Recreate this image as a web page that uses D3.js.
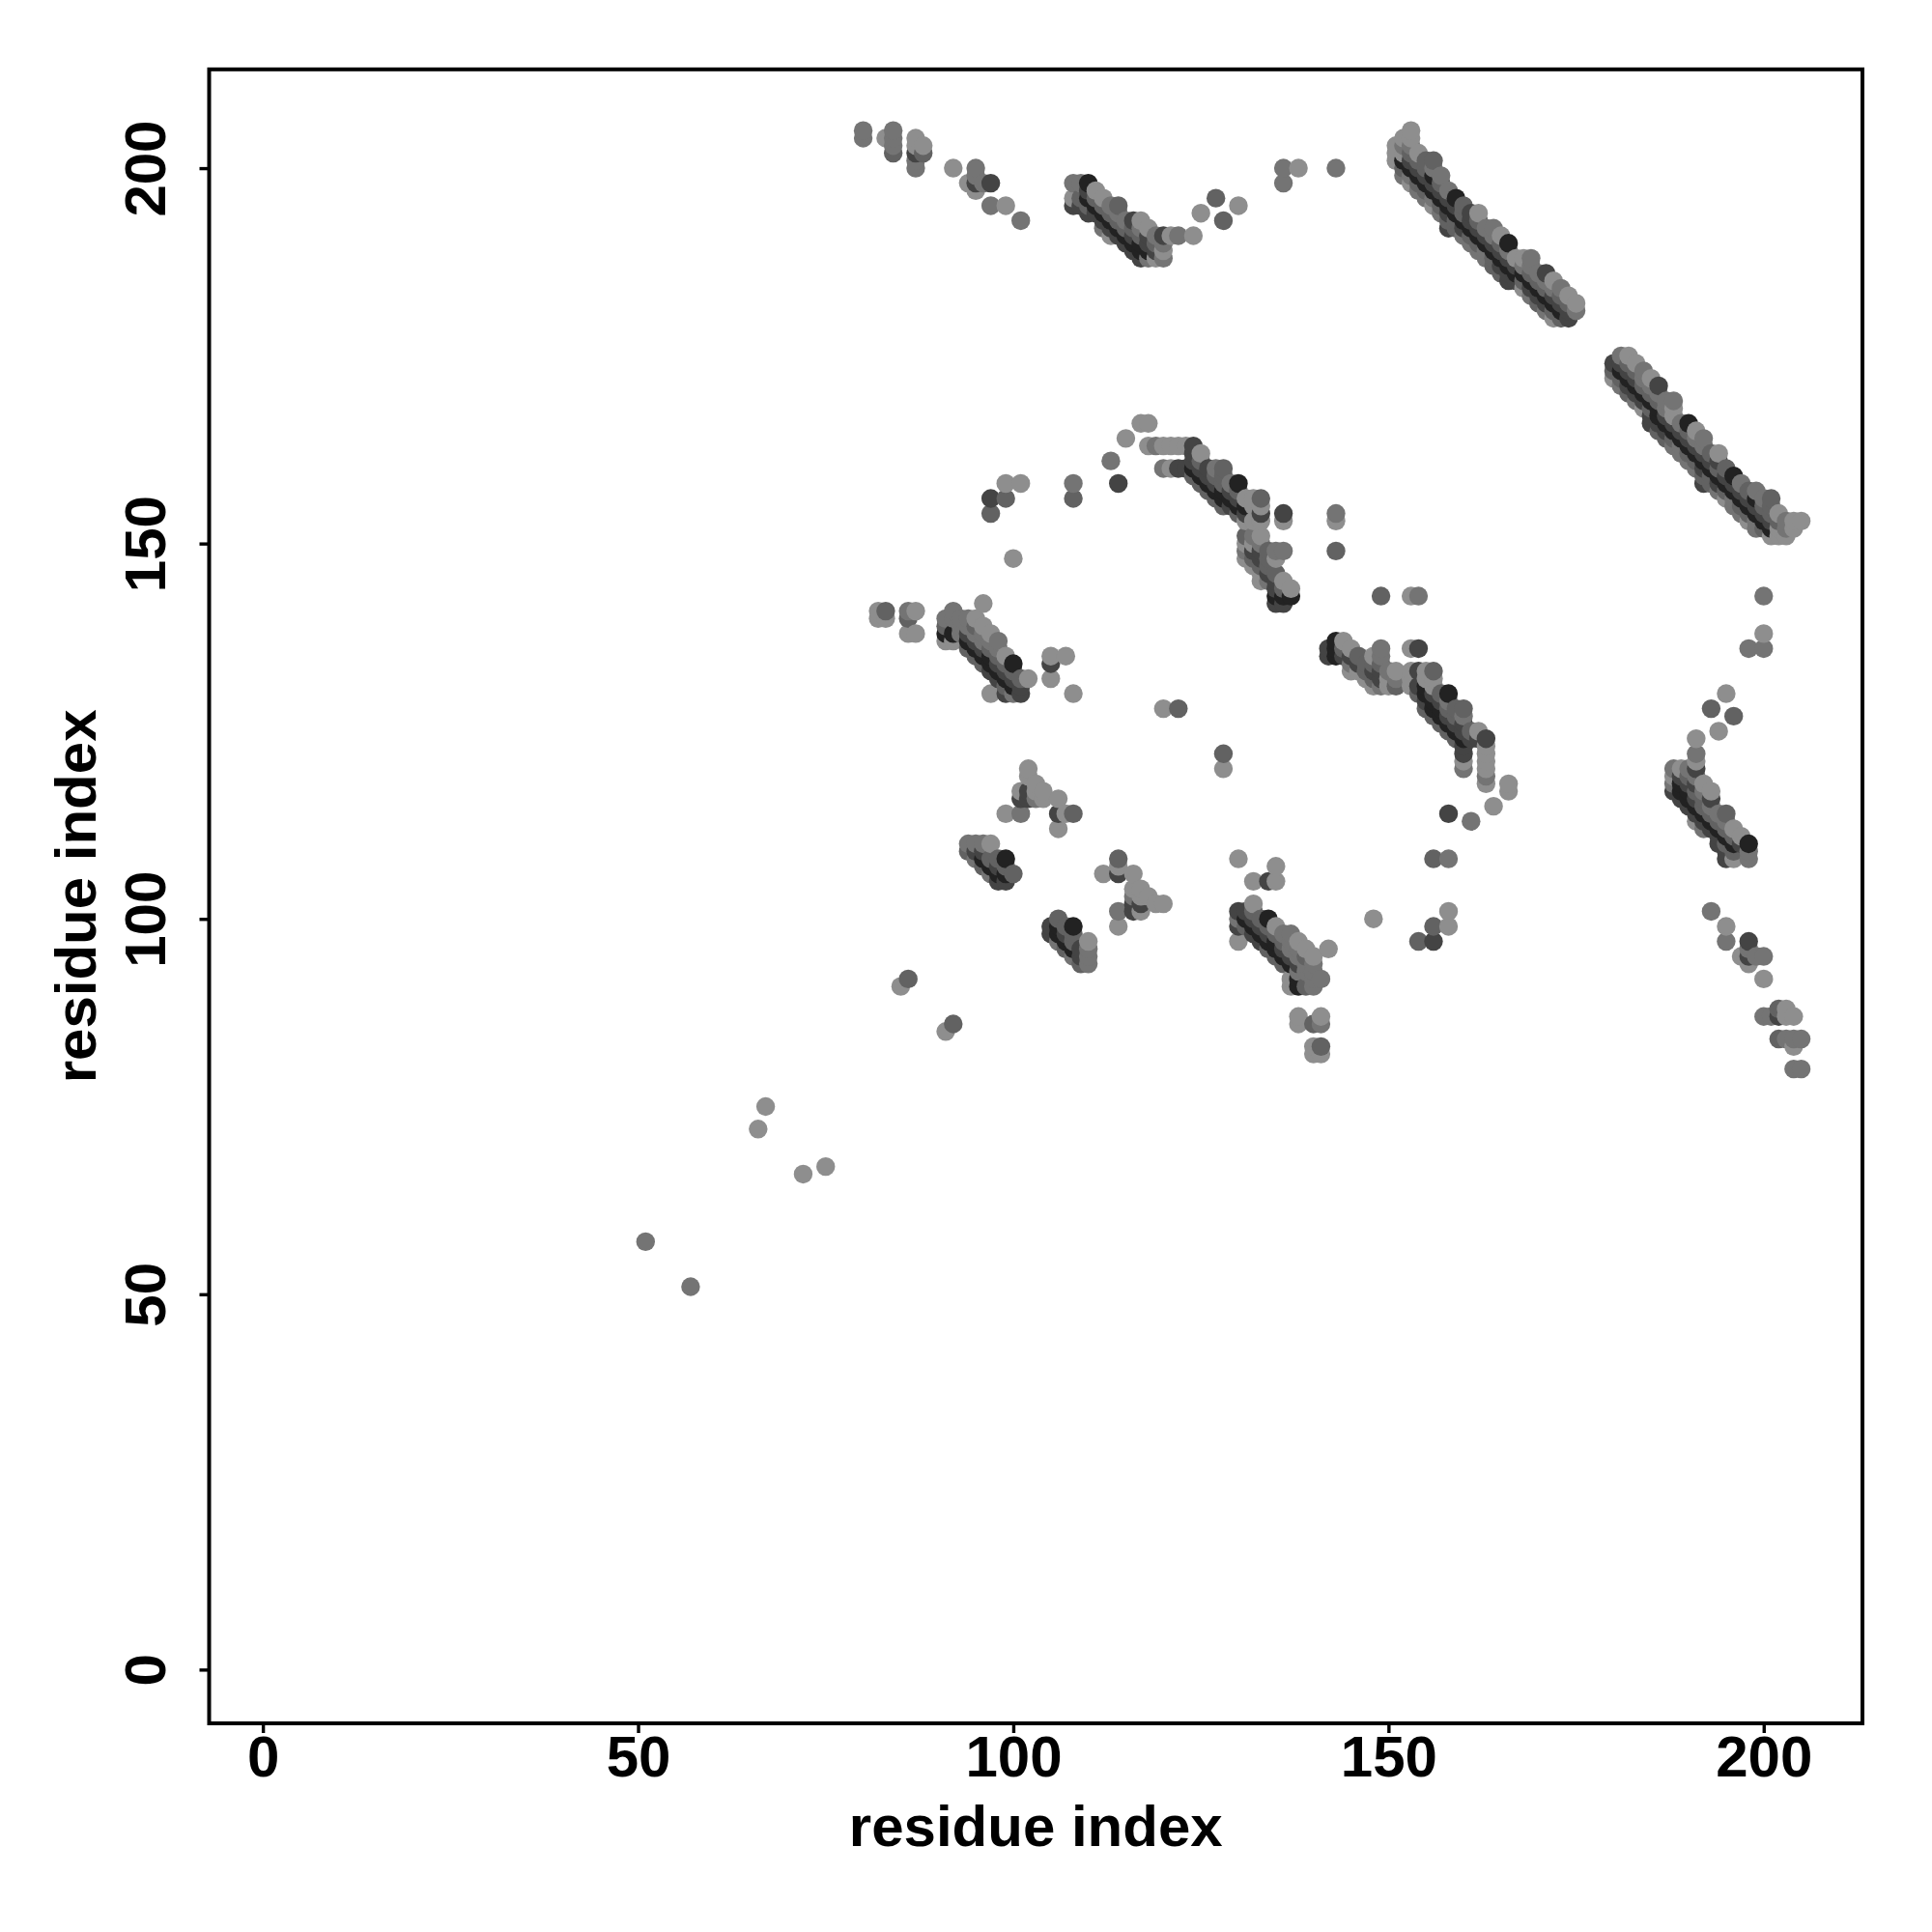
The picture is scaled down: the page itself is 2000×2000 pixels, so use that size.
<!DOCTYPE html>
<html><head><meta charset="utf-8"><script src="https://cdn.jsdelivr.net/npm/d3@7"></script>
<style>html,body{margin:0;padding:0;background:#fff}svg{display:block}</style></head><body>
<script>
const xTicks=[0,50,100,150,200];
const yTicks=[0,50,100,150,200];
const axisLabel="residue index";
const lightContacts=[[66,72],[67,75],[85,91],[83,204],[87,204],[87,203],[88,203],[92,200],[94,198],[95,197],[99,195],[108,196],[111,197],[112,196],[113,191],[117,193],[118,192],[121,191],[124,191],[120,189],[119,188],[125,194],[130,195],[138,200],[117,166],[118,166],[115,164],[118,163],[120,163],[121,163],[122,163],[123,163],[121,160],[125,162],[99,158],[101,158],[100,148],[131,153],[132,153],[133,153],[131,156],[132,156],[132,155],[133,155],[136,153],[143,153],[131,148],[131,150],[132,147],[132,150],[133,146],[133,145],[133,151],[135,148],[136,145],[137,144],[82,141],[82,140],[83,140],[87,141],[86,138],[87,138],[96,142],[91,137],[92,137],[97,130],[97,138],[96,139],[95,140],[99,135],[102,132],[105,135],[107,135],[105,132],[108,130],[120,128],[102,120],[102,119],[101,117],[103,118],[103,117],[104,117],[104,116],[106,116],[99,114],[107,114],[106,112],[97,110],[151,201],[151,202],[151,203],[152,202],[152,204],[153,204],[153,205],[153,198],[154,202],[156,195],[162,194],[165,191],[167,188],[168,188],[168,184],[172,180],[172,185],[174,183],[175,182]];
const midContacts=[[51,57],[80,205],[80,204],[84,205],[84,204],[84,203],[87,201],[87,200],[95,200],[95,199],[96,198],[97,195],[101,193],[108,198],[109,198],[113,195],[119,191],[122,191],[112,192],[114,194],[115,193],[117,192],[118,188],[120,188],[120,190],[136,198],[136,200],[143,200],[143,154],[113,161],[108,158],[119,163],[120,160],[127,160],[129,158],[131,149],[132,151],[133,150],[134,145],[135,149],[136,149],[86,141],[91,140],[92,140],[92,141],[93,138],[93,139],[93,140],[94,139],[94,140],[95,138],[96,137],[96,138],[97,137],[98,136],[98,137],[100,130],[101,114],[103,116],[94,110],[95,110],[96,110],[97,106],[95,108],[152,203],[153,203],[153,199],[154,197],[155,196],[156,196],[156,200],[157,194],[157,199],[158,197],[160,191],[161,190],[162,189],[163,188],[163,189],[163,192],[164,191],[164,192],[169,183],[169,187],[169,188],[168,187],[170,186],[171,181],[171,185],[172,184],[173,184],[175,181],[166,189],[152,199]];
const darkContacts=[[86,92],[84,202],[88,202],[109,196],[110,195],[111,196],[112,195],[113,194],[114,193],[114,195],[115,192],[116,192],[117,191],[119,190],[127,196],[128,193],[143,149],[97,154],[99,156],[108,156],[122,128],[124,159],[125,158],[125,161],[126,157],[127,156],[127,159],[128,155],[128,158],[128,159],[128,160],[130,154],[130,157],[133,156],[131,151],[132,148],[133,147],[134,147],[134,148],[134,149],[135,146],[136,144],[83,141],[86,140],[91,139],[94,136],[95,135],[95,139],[96,134],[97,136],[98,135],[99,131],[99,134],[100,133],[101,132],[108,114],[94,109],[96,107],[97,108],[98,108],[99,107],[100,106],[152,200],[153,202],[154,198],[154,201],[155,197],[155,200],[155,201],[156,201],[157,195],[157,198],[158,193],[159,192],[159,193],[160,194],[160,195],[161,191],[162,190],[162,193],[164,187],[164,188],[165,186],[165,190],[168,185],[169,186],[170,182],[170,185],[171,184],[172,181],[173,180],[173,183],[174,182]];
const deepContacts=[[87,202],[95,198],[97,198],[97,156],[114,158],[108,195],[109,195],[110,194],[110,197],[111,194],[112,193],[113,192],[114,191],[115,190],[116,189],[116,191],[116,193],[117,188],[118,190],[118,191],[119,189],[120,191],[124,161],[124,162],[124,163],[122,160],[123,160],[125,160],[126,159],[126,160],[127,158],[129,155],[129,157],[130,156],[131,154],[133,154],[136,154],[132,149],[133,148],[133,149],[134,146],[135,142],[135,144],[135,145],[136,142],[94,138],[95,137],[96,136],[97,133],[98,132],[98,134],[99,130],[99,133],[100,132],[101,130],[101,131],[105,134],[102,117],[101,116],[102,116],[106,114],[95,109],[96,109],[98,105],[98,107],[99,105],[153,201],[154,200],[155,199],[156,198],[157,197],[158,192],[158,194],[158,196],[159,195],[160,192],[161,193],[161,194],[162,192],[163,191],[164,190],[165,187],[165,189],[166,185],[166,186],[166,188],[167,185],[167,187],[169,184],[170,183],[171,182],[171,186],[172,183],[173,182],[174,180],[174,181]];
const blackContacts=[[110,198],[110,196],[111,195],[112,194],[113,193],[114,192],[115,191],[116,190],[117,189],[117,190],[118,189],[124,160],[125,159],[126,158],[127,157],[128,156],[128,157],[129,156],[130,155],[130,158],[131,155],[135,143],[136,143],[137,143],[91,138],[92,138],[94,137],[95,136],[96,135],[97,134],[97,135],[98,133],[99,132],[100,131],[100,134],[96,108],[97,107],[98,106],[99,106],[99,108],[152,201],[153,200],[154,199],[155,198],[156,199],[156,197],[157,196],[158,195],[159,194],[159,196],[160,193],[161,192],[162,191],[163,190],[164,189],[165,188],[166,187],[166,190],[167,186],[168,186],[169,185],[170,184],[171,183],[172,182],[173,181]];
const shades=[[lightContacts,"#8e8e8e"],[midContacts,"#747474"],[darkContacts,"#626262"],[deepContacts,"#444444"],[blackContacts,"#222222"]];
const W=2000,H=2000,left=216.5,right=1928,top_=71.8,bottom=1784;
const svg=d3.select("body").append("svg").attr("width",W).attr("height",H).attr("viewBox",[0,0,W,H]);
const x=d3.scaleLinear().domain([-7.16,213.16]).range([left,right]);
const y=d3.scaleLinear().domain([-7.16,213.16]).range([bottom,top_]);
const pts=[];
shades.forEach(([list,c])=>list.forEach(([i,j])=>{pts.push({i,j,c});pts.push({i:j,j:i,c});}));
pts.sort((a,b)=>d3.ascending(a.i,b.i)||d3.ascending(a.j,b.j));
svg.append("g").selectAll("circle").data(pts).join("circle")
 .attr("cx",d=>x(d.i)).attr("cy",d=>y(d.j)).attr("r",9.7).attr("fill",d=>d.c);
svg.append("rect").attr("x",left).attr("y",top_).attr("width",right-left).attr("height",bottom-top_)
 .attr("fill","none").attr("stroke","#000").attr("stroke-width",4);
const font="'Liberation Sans'";
const gx=svg.append("g").attr("transform",`translate(0,${bottom})`).call(d3.axisBottom(x).tickValues(xTicks).tickSize(10).tickPadding(0).tickFormat(d3.format("d")));
gx.select(".domain").remove();
gx.selectAll("line").attr("stroke","#000").attr("stroke-width",3.4);
gx.selectAll("text").attr("y",54.5).attr("dy",0).attr("font-family",font).attr("font-weight","bold").attr("font-size",60).attr("fill","#000");
const gy=svg.append("g").attr("transform",`translate(${left},0)`).call(d3.axisLeft(y).tickValues(yTicks).tickSize(10).tickPadding(0).tickFormat(d3.format("d")));
gy.select(".domain").remove();
gy.selectAll("line").attr("stroke","#000").attr("stroke-width",3.4);
gy.selectAll("text").attr("x",0).attr("dy",0).attr("text-anchor","middle").attr("transform",`translate(-45.5,0) rotate(-90)`)
 .attr("font-family",font).attr("font-weight","bold").attr("font-size",60).attr("fill","#000");
svg.append("text").attr("x",(left+right)/2).attr("y",1911).attr("text-anchor","middle").attr("font-family",font).attr("font-weight","bold").attr("font-size",60).text(axisLabel);
svg.append("text").attr("transform",`translate(99,${(top_+bottom)/2}) rotate(-90)`).attr("text-anchor","middle").attr("font-family",font).attr("font-weight","bold").attr("font-size",60).text(axisLabel);
</script></body></html>
